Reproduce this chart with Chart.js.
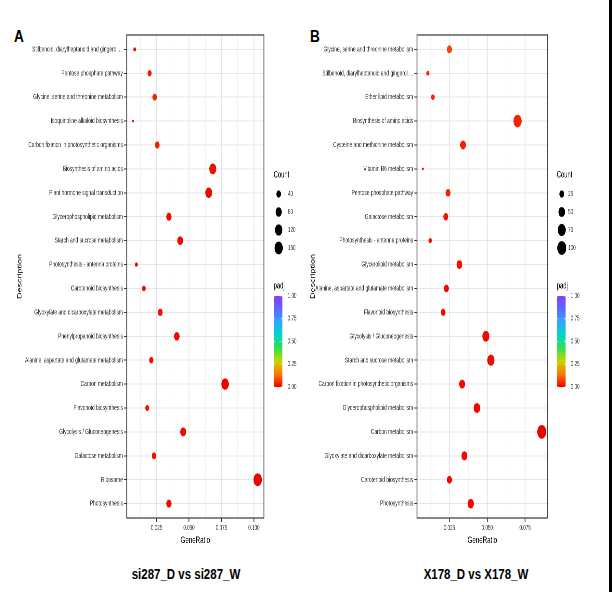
<!DOCTYPE html>
<html lang="en">
<head>
<meta charset="UTF-8">
<title>KEGG enrichment dot plots</title>
<script src="https://cdn.jsdelivr.net/npm/chart.js"></script>
<style>
  body { margin: 0; width: 612px; height: 592px; background: #fff; position: relative; overflow: hidden; font-family: "Liberation Sans", Arial, sans-serif; }
  .panel { position: absolute; top: 0; transform: scaleX(0.65); transform-origin: 0 0; }
  #panelA { left: 0; }
  #panelB { left: 300px; }
  .tag { position: absolute; top: 28px; font-weight: bold; font-size: 17px; line-height: 17px; transform: scaleX(0.8); transform-origin: 0 0; }
  .cmp { position: absolute; top: 567px; width: 200px; text-align: center; font-weight: bold; font-size: 14px; line-height: 14px; transform: scaleX(0.82); }
  .edge { position: absolute; right: 0; top: 0; width: 3px; height: 592px; background: #000; }
</style>
</head>
<body>
  <div class="tag" style="left:14px">A</div>
  <div class="tag" style="left:310px">B</div>
  <div class="panel" id="panelA"><canvas id="chartA" width="462" height="560"></canvas></div>
  <div class="panel" id="panelB"><canvas id="chartB" width="469" height="560"></canvas></div>
  <div class="cmp" style="left:86px">si287_D vs si287_W</div>
  <div class="cmp" style="left:376px">X178_D vs X178_W</div>
  <div class="edge"></div>

<script>
const FONT = '"Liberation Sans", Arial, sans-serif';

// --- panel A: si287_D vs si287_W (top to bottom) ---
const pathwaysA = [
  'Stilbenoid, diarylheptanoid and gingerol ...', 'Pentose phosphate pathway',
  'Glycine, serine and threonine metabolism', 'Isoquinoline alkaloid biosynthesis',
  'Carbon fixation in photosynthetic organisms', 'Biosynthesis of amino acids',
  'Plant hormone signal transduction', 'Glycerophospholipid metabolism',
  'Starch and sucrose metabolism', 'Photosynthesis - antenna proteins',
  'Carotenoid biosynthesis', 'Glyoxylate and dicarboxylate metabolism',
  'Phenylpropanoid biosynthesis', 'Alanine, aspartate and glutamate metabolism',
  'Carbon metabolism', 'Flavonoid biosynthesis', 'Glycolysis / Gluconeogenesis',
  'Galactose metabolism', 'Ribosome', 'Photosynthesis'
];
const ratioA = [0.0081, 0.0196, 0.0235, 0.0068, 0.0255, 0.0683, 0.0652, 0.0345, 0.0432, 0.0094,
                0.0152, 0.0278, 0.0406, 0.0209, 0.0778, 0.0178, 0.0455, 0.0230, 0.1029, 0.0345];
const countA = [13, 30, 36, 10, 40, 106, 101, 53, 67, 15, 24, 43, 63, 32, 121, 28, 71, 36, 160, 53];
const padjA  = [0.01, 0.03, 0.04, 0.01, 0.04, 0.02, 0.01, 0.01, 0.01, 0.01,
                0.02, 0.02, 0.01, 0.02, 0.00, 0.02, 0.01, 0.02, 0.00, 0.01];
const countBreaksA = [40, 80, 120, 160];
const majorTicksA = [0.025, 0.05, 0.075, 0.1];
const minorTicksA = [0.0125, 0.0375, 0.0625, 0.0875];

// --- panel B: X178_D vs X178_W ---
const pathwaysB = [
  'Glycine, serine and threonine metabolism', 'Stilbenoid, diarylheptanoid and gingerol ...',
  'Ether lipid metabolism', 'Biosynthesis of amino acids', 'Cysteine and methionine metabolism',
  'Vitamin B6 metabolism', 'Pentose phosphate pathway', 'Galactose metabolism',
  'Photosynthesis - antenna proteins', 'Glycerolipid metabolism',
  'Alanine, aspartate and glutamate metabolism', 'Flavonoid biosynthesis',
  'Glycolysis / Gluconeogenesis', 'Starch and sucrose metabolism',
  'Carbon fixation in photosynthetic organisms', 'Glycerophospholipid metabolism',
  'Carbon metabolism', 'Glyoxylate and dicarboxylate metabolism', 'Carotenoid biosynthesis',
  'Photosynthesis'
];
const ratioB = [0.0250, 0.0108, 0.0141, 0.0700, 0.0340, 0.0075, 0.0241, 0.0226, 0.0123, 0.0316,
                0.0230, 0.0209, 0.0491, 0.0524, 0.0334, 0.0432, 0.0860, 0.0349, 0.0250, 0.0391];
const countB = [29, 13, 16, 81, 39, 9, 28, 26, 14, 37, 27, 24, 57, 61, 39, 50, 100, 40, 29, 45];
const padjB  = [0.08, 0.05, 0.05, 0.04, 0.04, 0.02, 0.04, 0.02, 0.02, 0.02,
                0.01, 0.01, 0.01, 0.01, 0.01, 0.01, 0.00, 0.01, 0.01, 0.01];
const countBreaksB = [25, 50, 75, 100];
const majorTicksB = [0.025, 0.05, 0.075];
const minorTicksB = [0.0125, 0.0375, 0.0625, 0.0875];

const padjBreaks = [0, 0.25, 0.5, 0.75, 1];
const padjColours = ['#f00000', '#ff7a00', '#c8d400', '#30e050', '#00d8c8', '#30a8ff', '#5a68ff', '#8a3cff'];

function hexRgb(h) {
  return [1, 3, 5].map(i => parseInt(h.slice(i, i + 2), 16));
}
function padjColour(p) {
  const t = Math.min(Math.max(p, 0), 1) * (padjColours.length - 1);
  const i = Math.min(Math.floor(t), padjColours.length - 2);
  const f = t - i;
  const a = hexRgb(padjColours[i]), b = hexRgb(padjColours[i + 1]);
  const c = a.map((v, k) => Math.round(v + (b[k] - v) * f));
  return `rgb(${c[0]},${c[1]},${c[2]})`;
}

// panel border on top of points, like theme_bw
const framePlugin = {
  id: 'frame',
  afterDatasetsDraw(chart) {
    const { ctx, chartArea: a } = chart;
    ctx.save();
    ctx.strokeStyle = '#444';
    ctx.lineWidth = 1.3;
    ctx.strokeRect(a.left, a.top, a.right - a.left, a.bottom - a.top);
    ctx.restore();
  }
};

// Count + padj guides on the right of each panel
const keyPlugin = {
  id: 'keys',
  afterDraw(chart, args, o) {
    const { ctx, chartArea } = chart;
    const L = chartArea.right + o.gap;
    ctx.save();
    ctx.textBaseline = 'middle';
    ctx.textAlign = 'left';
    ctx.fillStyle = '#000';
    ctx.font = `9px ${FONT}`;
    ctx.fillText('Count', L, 175);
    o.breaks.forEach((c, i) => {
      const y = 194 + i * 18;
      ctx.fillStyle = '#000';
      ctx.beginPath();
      ctx.arc(L + 7.7, y, o.size(c), 0, Math.PI * 2);
      ctx.fill();
      ctx.fillStyle = '#333';
      ctx.font = `7px ${FONT}`;
      ctx.fillText(String(c), L + o.labelGap, y);
    });

    ctx.fillStyle = '#000';
    ctx.font = `9px ${FONT}`;
    ctx.fillText('padj', L, 286);
    const top = 296, bot = 387, w = 13.5;
    const g = ctx.createLinearGradient(0, bot, 0, top);
    padjColours.forEach((c, k) => g.addColorStop(k / (padjColours.length - 1), c));
    ctx.fillStyle = g;
    ctx.fillRect(L, top, w, bot - top);
    ctx.font = `7px ${FONT}`;
    padjBreaks.forEach(p => {
      const y = bot - p * (bot - top);
      ctx.strokeStyle = '#fff';
      ctx.lineWidth = 0.8;
      ctx.beginPath();
      ctx.moveTo(L, y); ctx.lineTo(L + 2.5, y);
      ctx.moveTo(L + w - 2.5, y); ctx.lineTo(L + w, y);
      ctx.stroke();
      ctx.fillStyle = '#333';
      ctx.fillText(p.toFixed(2), L + 21.5, y);
    });
    ctx.restore();
  }
};

function makePanel(id, p) {
  const cMin = Math.min(...p.count), cMax = Math.max(...p.count);
  const size = c => p.rMin + (p.rMax - p.rMin) * Math.sqrt(Math.max(c - cMin, 0) / (cMax - cMin));
  const isMajor = v => p.major.some(m => Math.abs(m - v) < 1e-9);
  const xTicks = p.major.concat(p.minor).sort((a, b) => a - b);

  return new Chart(document.getElementById(id), {
    type: 'bubble',
    data: {
      datasets: [{
        data: p.ratio.map((x, i) => ({ x, y: i, r: size(p.count[i]) })),
        backgroundColor: p.padj.map(padjColour),
        borderWidth: 0,
        hoverRadius: 0
      }]
    },
    options: {
      responsive: false,
      animation: false,
      devicePixelRatio: 2,
      events: [],
      layout: { padding: { left: 0, top: 35, right: p.rightPad, bottom: 14 } },
      plugins: {
        legend: { display: false },
        tooltip: { enabled: false },
        keys: { breaks: p.breaks, size, gap: p.gap, labelGap: p.labelGap }
      },
      scales: {
        x: {
          type: 'linear',
          min: p.xMin,
          max: p.xMax,
          afterBuildTicks: s => { s.ticks = xTicks.map(v => ({ value: v })); },
          afterFit: s => { s.height = 28; },
          ticks: {
            autoSkip: false, maxRotation: 0, padding: 2,
            font: { size: 7, family: FONT }, color: '#333',
            callback: v => isMajor(v) ? v.toFixed(3) : ''
          },
          grid: {
            color: c => isMajor(c.tick.value) ? '#e4e4e4' : '#f0f0f0',
            lineWidth: c => isMajor(c.tick.value) ? 1.3 : 0.8,
            tickColor: c => isMajor(c.tick.value) ? '#333' : 'rgba(0,0,0,0)',
            tickLength: 4
          },
          border: { display: false },
          title: {
            display: true, text: 'GeneRatio', color: '#000',
            font: { size: 9.5, family: FONT }, padding: { top: 0, bottom: 0 }
          }
        },
        y: {
          type: 'linear',
          reverse: true,
          min: -0.6,
          max: p.pathways.length - 1 + 0.6,
          afterBuildTicks: s => { s.ticks = p.pathways.map((_, i) => ({ value: i })); },
          afterFit: s => { s.width = p.yWidth; },
          ticks: {
            autoSkip: false, padding: 2,
            font: { size: 7.5, family: FONT }, color: '#333',
            callback: v => p.pathways[v]
          },
          grid: { color: '#e6e6e6', lineWidth: 1, tickColor: '#333', tickLength: 4 },
          border: { display: false },
          title: {
            display: true, text: 'Description', color: '#000',
            font: { size: 9, family: FONT }, padding: { top: p.titlePad, bottom: 0 }
          }
        }
      }
    },
    plugins: [framePlugin, keyPlugin]
  });
}

makePanel('chartA', {
  pathways: pathwaysA, ratio: ratioA, count: countA, padj: padjA,
  breaks: countBreaksA, major: majorTicksA, minor: minorTicksA,
  xMin: 0.0020, xMax: 0.1077,
  yWidth: 195, rightPad: 56, titlePad: 25,
  rMin: 1.3, rMax: 6.4, gap: 15, labelGap: 22
});

makePanel('chartB', {
  pathways: pathwaysB, ratio: ratioB, count: countB, padj: padjB,
  breaks: countBreaksB, major: majorTicksB, minor: minorTicksB,
  xMin: 0.0036, xMax: 0.0899,
  yWidth: 180, rightPad: 88, titlePad: 14.5,
  rMin: 1.3, rMax: 6.9, gap: 14, labelGap: 17.5
});
</script>
</body>
</html>
